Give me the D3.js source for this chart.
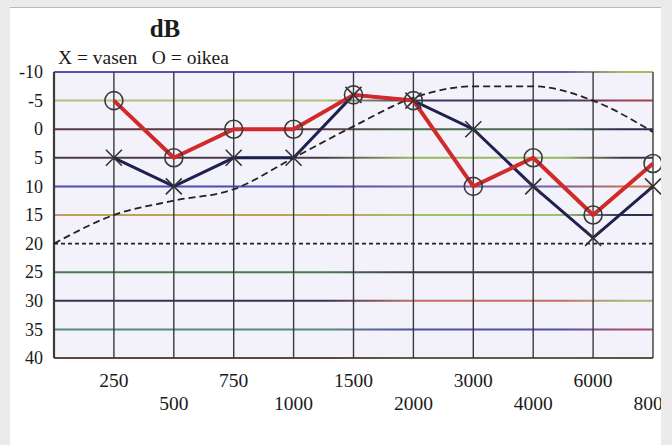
<!DOCTYPE html>
<html><head><meta charset="utf-8">
<script src="https://cdn.jsdelivr.net/npm/d3@7/dist/d3.min.js"></script>
<style>
html,body{margin:0;padding:0;background:#ebebeb;}
svg{display:block;}
text{font-family:"Liberation Serif","DejaVu Serif",serif;fill:#1a1a1a;}
</style></head>
<body>
<svg id="c" width="672" height="445"></svg>
<script>
// ---- data ----
const freqLabels = ["250","500","750","1000","1500","2000","3000","4000","6000","8000"];
const dbTicks = [-10,-5,0,5,10,15,20,25,30,35,40];
const rightEar = [-5,5,0,0,-6,-5,10,5,15,6];   // O = oikea
const leftEar  = [5,10,5,5,-6,-5,0,10,19,10];   // X = vasen
// reference curve, index 0 = left edge, then each frequency
const refCurve = [20,15,12.5,10.5,5,-0.5,-5.5,-7.5,-7.5,-5,0.5];
const refLevel = 20;

// ---- layout ----
const svg = d3.select("#c");
const L = 54, R = 653, T = 72, B = 358;
const x = d3.scaleLinear().domain([0,10]).range([L,R]);
const y = d3.scaleLinear().domain([-10,40]).range([T,B]);

// panel
svg.append("rect").attr("x",10).attr("y",7).attr("width",651).attr("height",438).attr("fill","#ffffff");
svg.append("line").attr("x1",10).attr("x2",661).attr("y1",7.5).attr("y2",7.5).attr("stroke","#b8b8b8");
svg.append("rect").attr("x",L).attr("y",T).attr("width",R-L).attr("height",B-T).attr("fill","#f3f2fb");

// gridline colour gradients (scanned multicolour lines)
const lineColors = {
  "-10":["#5550a8","#6a5aa8","#b0b860"],
  "-5":["#b8c078","#3a3a60","#a04050"],
  "0":["#5a3a44","#4a6a50","#2a2a50"],
  "5":["#4a3a48","#9ab860","#3a3a40"],
  "10":["#4a4ab0","#7060a8","#c87050"],
  "15":["#c0a060","#a0c070","#2a3050"],
  "25":["#4a7a50","#3a3a48","#3a3a48"],
  "30":["#333050","#c07060","#a8b870"],
  "35":["#5a8a78","#5050a8","#a05070"],
  "40":["#d07048","#c8c870","#b0b060"]
};
const defs = svg.append("defs");
Object.entries(lineColors).forEach(([k,c])=>{
  const g = defs.append("linearGradient").attr("id","g"+k.replace("-","m"))
    .attr("gradientUnits","userSpaceOnUse").attr("x1",L).attr("x2",R).attr("y1",0).attr("y2",0);
  g.append("stop").attr("offset","0%").attr("stop-color",c[0]);
  g.append("stop").attr("offset","45%").attr("stop-color",c[0]);
  g.append("stop").attr("offset","60%").attr("stop-color",c[1]);
  g.append("stop").attr("offset","85%").attr("stop-color",c[1]);
  g.append("stop").attr("offset","95%").attr("stop-color",c[2]);
  g.append("stop").attr("offset","100%").attr("stop-color",c[2]);
});

// horizontal grid
dbTicks.forEach(v=>{
  if (v===refLevel) return;
  svg.append("line").attr("x1",L).attr("x2",R).attr("y1",y(v)).attr("y2",y(v))
    .attr("stroke","url(#g"+String(v).replace("-","m")+")").attr("stroke-width",2);
});
// dashed 20 dB line
svg.append("line").attr("x1",L).attr("x2",R).attr("y1",y(refLevel)).attr("y2",y(refLevel))
  .attr("stroke","#222").attr("stroke-width",1.6).attr("stroke-dasharray","4,3");

// vertical grid
d3.range(0,11).forEach(i=>{
  svg.append("line").attr("x1",x(i)).attr("x2",x(i)).attr("y1",T).attr("y2",B)
    .attr("stroke","#3a3a3a").attr("stroke-width", i===0?2.2:1.4);
});
svg.append("line").attr("x1",L).attr("x2",R).attr("y1",B).attr("y2",B).attr("stroke","#3a3a3a").attr("stroke-width",1.5);

// y axis labels
const yAxis = d3.axisLeft(y).tickValues(dbTicks).tickSize(0).tickPadding(0).tickFormat(d=>String(d));
const ya = svg.append("g").attr("transform",`translate(${L-11},0)`).call(yAxis);
ya.select(".domain").remove();
ya.selectAll("text").style("font-family","'Liberation Serif',serif").style("font-size","18px").attr("fill","#1a1a1a");

// x labels (staggered)
freqLabels.forEach((f,i)=>{
  svg.append("text").attr("x",x(i+1)).attr("y", i%2===0?387:410)
    .attr("text-anchor","middle").style("font-size","19.5px").text(f);
});

// reference dashed curve
svg.append("path").datum(refCurve)
  .attr("d", d3.line().x((d,i)=>x(i)).y(d=>y(d)).curve(d3.curveMonotoneX))
  .attr("fill","none").attr("stroke","#222").attr("stroke-width",1.8).attr("stroke-dasharray","7,4");

// series lines
const line = d3.line().x((d,i)=>x(i+1)).y(d=>y(d));
svg.append("path").datum(leftEar).attr("d",line).attr("fill","none")
  .attr("stroke","#1e2050").attr("stroke-width",3);
svg.append("path").datum(rightEar).attr("d",line).attr("fill","none")
  .attr("stroke","#d02a2a").attr("stroke-width",4).attr("stroke-linejoin","round");

// markers
leftEar.forEach((v,i)=>{
  const cx = x(i+1), cy = y(v), s = 8;
  svg.append("path").attr("d",`M${cx-s},${cy-s}L${cx+s},${cy+s}M${cx-s},${cy+s}L${cx+s},${cy-s}`)
    .attr("stroke","#333").attr("stroke-width",1.6).attr("fill","none");
});
rightEar.forEach((v,i)=>{
  svg.append("circle").attr("cx",x(i+1)).attr("cy",y(v)).attr("r",9)
    .attr("fill","none").attr("stroke","#3a3a3a").attr("stroke-width",1.6);
});

// title & legend
svg.append("text").attr("x",165).attr("y",37).attr("text-anchor","middle")
  .style("font-size","25px").style("font-weight","bold").text("dB");
svg.append("text").attr("x",58).attr("y",64).style("font-size","19.5px").attr("xml:space","preserve")
  .text("X = vasen   O = oikea");

// right grey margin (clips 8000 label like the scan)
svg.append("rect").attr("x",661).attr("y",0).attr("width",11).attr("height",445).attr("fill","#ebebeb");
svg.append("rect").attr("x",0).attr("y",0).attr("width",10).attr("height",445).attr("fill","#ebebeb");
</script>
</body></html>
